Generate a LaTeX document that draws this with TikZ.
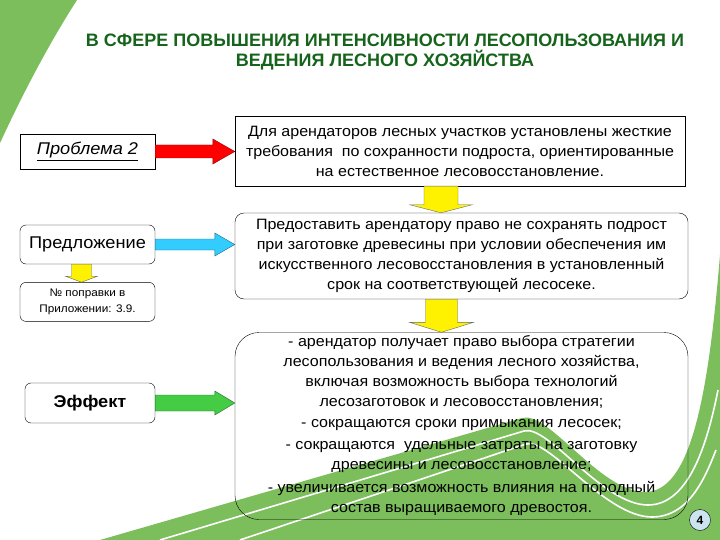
\documentclass[tikz,border=0pt]{standalone}
\usepackage{fontspec}
\setmainfont{Liberation Sans}[FakeStretch=1.07]
\newfontfamily\titlefont{Liberation Sans}
\usepackage{tikz}
\usetikzlibrary{
	calc,
	positioning
}
\definecolor{leaf}{RGB}{124,190,92}
\definecolor{pine}{RGB}{22,100,28}
\definecolor{sky}{RGB}{51,204,255}
\definecolor{grass}{RGB}{68,204,68}
\definecolor{badge}{RGB}{204,228,240}
\tikzset{
	squarebox/.style={draw, thin, fill=white, align=center, inner sep=2pt},
	roundbox/.style={squarebox, rounded corners=6pt},
	bigbox/.style={draw, thin, align=center, inner sep=2pt, rounded corners=#1},
	bodytext/.style={font=\fontsize{15}{20}\selectfont},
	blockarrow/.style={thin, line join=miter},
	stripe/.style={white, line width=1.6pt}
}
% horizontal block arrow: from, to, colour, shaft half height, head half height, head length
\newcommand{\hblock}[6]{%
	\path (#1.east) coordinate (tail) (#2.west |- #1.east) coordinate (tip);
	\filldraw[blockarrow, fill=#3, draw=#3!55!black]
		($(tail)+(0,-#4)$) -- ($(tip)+(-#6,-#4)$) -- ($(tip)+(-#6,-#5)$) -- (tip)
		-- ($(tip)+(-#6,#5)$) -- ($(tip)+(-#6,#4)$) -- ($(tail)+(0,#4)$) -- cycle;}
% vertical block arrow: from, to, x shift, shaft half width, head half width, head length
\newcommand{\vblock}[6]{%
	\path ($(#1.south)+(#3,0)$) coordinate (tail);
	\path (tail |- #2.north) coordinate (tip);
	\filldraw[blockarrow, fill=yellow, draw=black!60]
		($(tail)+(-#4,0)$) -- ($(tip)+(-#4,-#6)$) -- ($(tip)+(-#5,-#6)$) -- (tip)
		-- ($(tip)+(#5,-#6)$) -- ($(tip)+(#4,-#6)$) -- ($(tail)+(#4,0)$) -- cycle;}

\begin{document}
\begin{tikzpicture}[x=1pt, y=-1pt]
	\useasboundingbox (0,0) rectangle (720,540);

	% background
	\fill[leaf] (0,0) -- (77,0) .. controls (45,50) and (20,100) .. (0,143) -- cycle;
	\fill[leaf] (100,540) -- (522,418) .. controls (548,410) and (600,492) .. (645,492)
		.. controls (690,492) and (708,400) .. (720,255) -- (720,540) -- cycle;
	\draw[stripe] (160,540) -- (524,431) .. controls (548,424) and (602,505) .. (648,505)
		.. controls (690,505) and (708,440) .. (718,390);
	\draw[stripe] (240,540) -- (526,444) .. controls (550,438) and (605,517) .. (652,517)
		.. controls (690,517) and (706,475) .. (716,450);

	% title
	\node[font=\titlefont\bfseries\fontsize{18}{20}\selectfont, text=pine, align=center] (title) at (385,52)
		{В СФЕРЕ ПОВЫШЕНИЯ ИНТЕНСИВНОСТИ ЛЕСОПОЛЬЗОВАНИЯ И\\ ВЕДЕНИЯ ЛЕСНОГО ХОЗЯЙСТВА};

	% left column
	\node[squarebox, minimum width=135pt, minimum height=35pt, font=\fontsize{17}{18}\selectfont\itshape] (problem) at (87.5,151.5)
		{\underline{Проблема 2}};
	\node[roundbox, minimum width=135pt, minimum height=39pt, font=\fontsize{17}{18}\selectfont] (offer) at (87.5,244.5)
		{Предложение};
	\node[roundbox, minimum width=135pt, minimum height=39pt, font=\fontsize{11}{16}\selectfont, below=18pt of offer] (amend)
		{№ поправки в\\ Приложении: 3.9.};
	\node[roundbox, minimum width=130pt, minimum height=40pt, font=\fontsize{17}{18}\selectfont\bfseries] (effect) at (90,403)
		{Эффект};

	% right column
	\node[squarebox, bodytext, minimum width=450pt, minimum height=70pt] (demand) at (460,151)
		{Для арендаторов лесных участков установлены жесткие\\
		 требования\ \ по сохранности подроста, ориентированные\\
		 на естественное лесовосстановление.};
	\node[roundbox, bodytext, rounded corners=9pt, minimum width=453pt, minimum height=86pt] (grant) at (461.5,256)
		{Предоставить арендатору право не сохранять подрост\\
		 при заготовке древесины при условии обеспечения им\\
		 искусственного лесовосстановления в установленный\\
		 срок на соответствующей лесосеке.};
	\node[bigbox=24pt, bodytext, minimum width=453pt, minimum height=187pt] (result) at (461.5,426)
		{- арендатор получает право выбора стратегии\\
		 лесопользования и ведения лесного хозяйства,\\
		 включая возможность выбора технологий\\
		 лесозаготовок и лесовосстановления;\\[1pt]
		 - сокращаются сроки примыкания лесосек;\\[2pt]
		 - сокращаются\ \ удельные затраты на заготовку\\
		 древесины и лесовосстановление;\\[3pt]
		 - увеличивается возможность влияния на породный\\
		 состав выращиваемого древостоя.};

	\node[circle, draw, thin, fill=badge, minimum size=21pt, inner sep=0pt, font=\titlefont\bfseries\fontsize{12}{14}\selectfont] (page) at (700,520) {4};

	% block arrows
	\hblock{problem}{demand}{red}{6.5}{12.5}{22}
	\hblock{offer}{grant}{sky}{5.5}{11.5}{20}
	\hblock{effect}{result}{grass}{8}{12}{20}
	\vblock{demand}{grant}{-19}{17}{31}{8}
	\vblock{grant}{result}{-20}{16}{32}{10}
	\vblock{offer}{amend}{-6}{10}{16}{6}
\end{tikzpicture}
\end{document}
